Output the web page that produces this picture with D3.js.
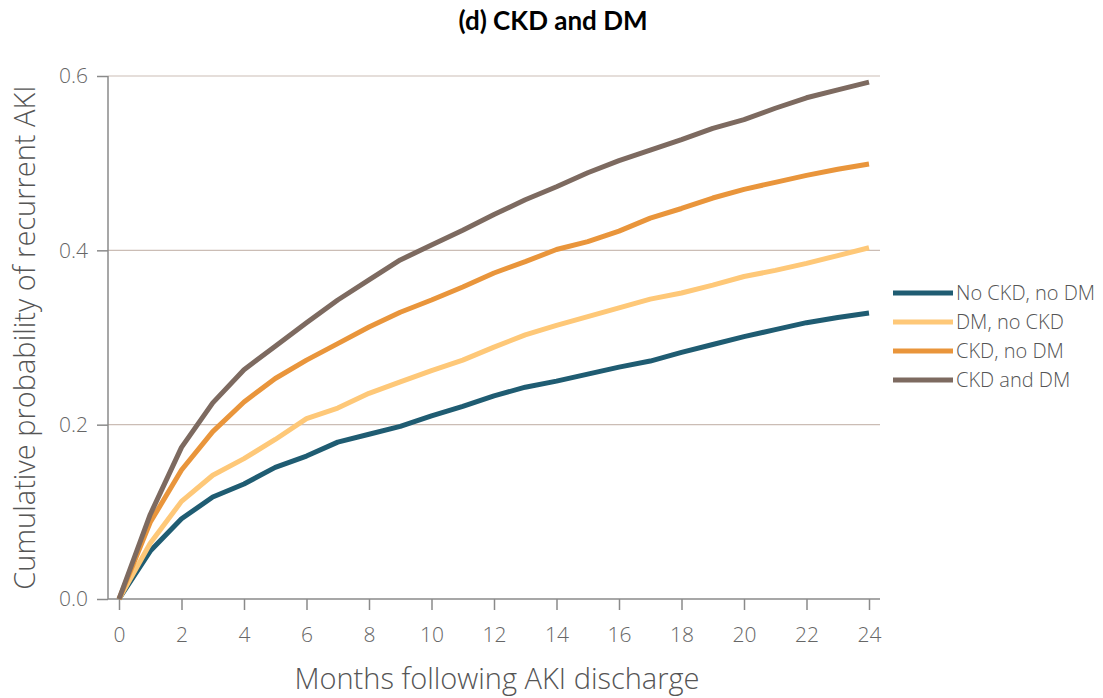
<!doctype html>
<html lang="en">
<head>
	<meta charset="UTF-8">
	<title>(d) CKD and DM</title>
	<style>
		body { margin: 0; background: #fff; }
		svg text { font-family: "Open Sans", "Noto Sans", sans-serif; }
		.title { font-family: Lato, "Open Sans", sans-serif; font-weight: bold; font-size: 26px; fill: #000; }
		.axis-label { font-size: 29px; fill: #555; font-weight: 300; }
		.tick-label { font-size: 21px; fill: #666; font-weight: 300; }
		.legend-label { font-size: 20px; fill: #555; font-weight: 300; }
	</style>
</head>
<body>
	<script src="https://cdn.jsdelivr.net/npm/d3@7"></script>
	<script>
		var months = d3.range(0, 25);

		var seriesNames = ['No CKD, no DM', 'DM, no CKD', 'CKD, no DM', 'CKD and DM'];
		var seriesColors = ['#1f5c72', '#fec878', '#e9953b', '#7d6a60'];

		var noCkdNoDm = [0, 0.055, 0.092, 0.117, 0.132, 0.151, 0.164, 0.180, 0.189, 0.198,
			0.210, 0.221, 0.233, 0.243, 0.250, 0.258, 0.266, 0.273, 0.283, 0.292,
			0.301, 0.309, 0.317, 0.323, 0.328];
		var dmNoCkd = [0, 0.064, 0.112, 0.142, 0.161, 0.183, 0.207, 0.219, 0.236, 0.249,
			0.262, 0.274, 0.289, 0.303, 0.314, 0.324, 0.334, 0.344, 0.351, 0.360,
			0.370, 0.377, 0.385, 0.394, 0.403];
		var ckdNoDm = [0, 0.088, 0.148, 0.192, 0.226, 0.253, 0.274, 0.293, 0.312, 0.329,
			0.343, 0.358, 0.374, 0.387, 0.401, 0.410, 0.422, 0.437, 0.448, 0.460,
			0.470, 0.478, 0.486, 0.493, 0.499];
		var ckdAndDm = [0, 0.097, 0.174, 0.225, 0.263, 0.290, 0.317, 0.343, 0.366, 0.389,
			0.406, 0.423, 0.441, 0.458, 0.473, 0.489, 0.503, 0.515, 0.527, 0.540,
			0.550, 0.563, 0.575, 0.584, 0.593];

		var seriesValues = [noCkdNoDm, dmNoCkd, ckdNoDm, ckdAndDm];

		var xTicks = d3.range(0, 25, 2);
		var yTicks = [0, 0.2, 0.4, 0.6];

		var w = 1103,
			h = 698,
			plotLeft = 108,
			plotRight = 880,
			plotTop = 76,
			plotBottom = 599;

		var svg = d3.select('body')
			.append('svg')
			.attr('width', w)
			.attr('height', h);

		var xScale = d3.scaleLinear()
			.domain([0, 24])
			.range([119, 869]);

		var yScale = d3.scaleLinear()
			.domain([0, 0.6])
			.range([plotBottom, plotTop]);

		// title
		svg.append('text')
			.attr('class', 'title')
			.attr('x', 553)
			.attr('y', 30)
			.attr('text-anchor', 'middle')
			.text('(d) CKD and DM');

		// gridlines
		svg.selectAll('.grid')
			.data(yTicks.filter(function(d) { return d > 0; }))
			.enter()
			.append('line')
			.attr('x1', plotLeft)
			.attr('x2', plotRight)
			.attr('y1', function(d) { return yScale(d); })
			.attr('y2', function(d) { return yScale(d); })
			.attr('stroke', '#cbbdb5')
			.attr('stroke-width', 1.2);

		// y axis
		var yAxis = d3.axisLeft(yScale)
			.tickValues(yTicks)
			.tickSize(11)
			.tickPadding(9)
			.tickFormat(d3.format('.1f'));

		var yAxisG = svg.append('g')
			.attr('transform', 'translate(' + plotLeft + ',0)')
			.call(yAxis);

		// x axis
		var xAxis = d3.axisBottom(xScale)
			.tickValues(xTicks)
			.tickSize(11)
			.tickPadding(17)
			.tickFormat(d3.format('d'));

		var xAxisG = svg.append('g')
			.attr('transform', 'translate(0,' + plotBottom + ')')
			.call(xAxis);

		[yAxisG, xAxisG].forEach(function(g) {
			g.select('.domain').remove();
			g.selectAll('.tick line').attr('stroke', '#8a8a8a').attr('stroke-width', 1.5);
			g.selectAll('.tick text')
				.attr('class', 'tick-label')
				.attr('font-family', null)
				.attr('font-size', null)
				.attr('fill', null);
		});

		svg.append('line')
			.attr('x1', plotLeft).attr('x2', plotLeft)
			.attr('y1', plotTop).attr('y2', plotBottom)
			.attr('stroke', '#8a8a8a').attr('stroke-width', 1.5);

		svg.append('line')
			.attr('x1', plotLeft).attr('x2', plotRight)
			.attr('y1', plotBottom).attr('y2', plotBottom)
			.attr('stroke', '#8a8a8a').attr('stroke-width', 1.5);

		// lines
		var line = d3.line()
			.x(function(d, i) { return xScale(months[i]); })
			.y(function(d) { return yScale(d); });

		svg.selectAll('.series')
			.data(seriesValues)
			.enter()
			.append('path')
			.attr('class', 'series')
			.attr('d', line)
			.attr('fill', 'none')
			.attr('stroke', function(d, i) { return seriesColors[i]; })
			.attr('stroke-width', 5)
			.attr('stroke-linejoin', 'round');

		// legend
		var legend = svg.selectAll('.legend')
			.data(seriesNames)
			.enter()
			.append('g')
			.attr('class', 'legend')
			.attr('transform', function(d, i) {
				return 'translate(893,' + (293 + i * 29) + ')';
			});

		legend.append('line')
			.attr('x1', 0)
			.attr('x2', 60)
			.attr('stroke', function(d, i) { return seriesColors[i]; })
			.attr('stroke-width', 5);

		legend.append('text')
			.attr('class', 'legend-label')
			.attr('x', 63)
			.attr('dy', '0.35em')
			.text(function(d) { return d; });

		// axis titles
		svg.append('text')
			.attr('class', 'axis-label')
			.attr('x', 497)
			.attr('y', 689)
			.attr('text-anchor', 'middle')
			.text('Months following AKI discharge');

		svg.append('text')
			.attr('class', 'axis-label')
			.attr('transform', 'translate(35,' + ((plotTop + plotBottom) / 2) + ') rotate(-90)')
			.attr('text-anchor', 'middle')
			.text('Cumulative probability of recurrent AKI');
	</script>
</body>
</html>
